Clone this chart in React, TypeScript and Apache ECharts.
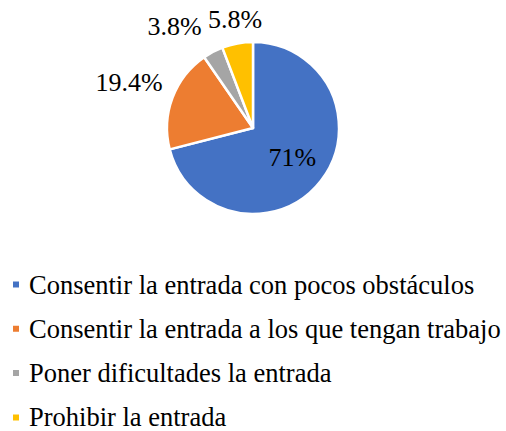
import React, { useEffect, useRef } from "react";
import * as echarts from "echarts";

const categories = [
  "Consentir la entrada con pocos obstáculos",
  "Consentir la entrada a los que tengan trabajo",
  "Poner dificultades la entrada",
  "Prohibir la entrada",
];
const values = [71, 19.4, 3.8, 5.8];
const colors = ["#4472C4", "#ED7D31", "#A5A5A5", "#FFC000"];

// label anchor positions for the outside labels (index -> [x, y])
const outsideLabelPos: Record<number, [number, number]> = {
  1: [129, 82],
  2: [174.5, 26],
  3: [235, 19],
};

const FONT = "Liberation Serif";

export default function App() {
  const ref = useRef<HTMLDivElement>(null);
  useEffect(() => {
    if (!ref.current) return;
    const chart = echarts.init(ref.current, undefined, { renderer: "svg" });
    chart.setOption({
      animation: false,
      color: colors,
      textStyle: { fontFamily: FONT },
      legend: {
        orient: "vertical",
        left: 11,
        top: 271,
        height: 200,
        padding: 0,
        icon: "rect",
        itemWidth: 8,
        itemHeight: 8,
        itemGap: 17.3,
        selectedMode: false,
        formatter: "{n|{name}}",
        textStyle: {
          fontFamily: FONT,
          fontSize: 26,
          color: "#000",
          rich: {
            n: {
              fontFamily: FONT,
              fontSize: 26.5,
              lineHeight: 24,
              color: "#000",
              padding: [0, 0, 0, 4],
            },
          },
        },
        data: categories,
      },
      series: [
        {
          type: "pie",
          center: [253, 128],
          radius: 86,
          startAngle: 90,
          clockwise: true,
          avoidLabelOverlap: false,
          itemStyle: { borderColor: "#fff", borderWidth: 2.5 },
          label: {
            show: true,
            position: "outside",
            formatter: "{c}%",
            fontFamily: FONT,
            fontSize: 26,
            color: "#000",
          },
          labelLine: { show: false },
          labelLayout: (params: any) => {
            const p = outsideLabelPos[params.dataIndex];
            if (!p) return { dx: 3, dy: 1 };
            return { x: p[0], y: p[1], align: "center", verticalAlign: "middle" };
          },
          data: categories.map((name, i) => ({
            name,
            value: values[i],
            label: i === 0 ? { position: "inside" } : undefined,
          })),
        },
      ],
    });
    return () => chart.dispose();
  }, []);
  return (
    <div
      ref={ref}
      style={{ position: "absolute", left: 0, top: 0, width: 506, height: 431, background: "#fff" }}
    />
  );
}
